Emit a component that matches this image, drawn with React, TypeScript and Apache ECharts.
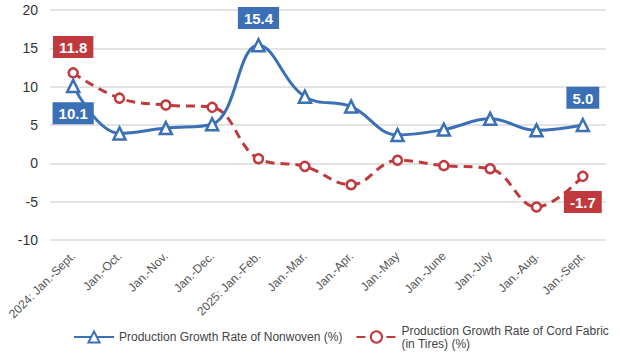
import React, { useEffect, useRef } from "react";
import * as echarts from "echarts";

const categories = [
  "2024: Jan.-Sept.",
  "Jan.-Oct.",
  "Jan.-Nov.",
  "Jan.-Dec.",
  "2025: Jan.-Feb.",
  "Jan.-Mar.",
  "Jan.-Apr.",
  "Jan.-May",
  "Jan.-June",
  "Jan.-July",
  "Jan.-Aug.",
  "Jan.-Sept.",
];
const nonwovenValues = [10.1, 3.9, 4.6, 5.1, 15.4, 8.7, 7.4, 3.7, 4.4, 5.8, 4.3, 5.0];
const cordValues = [11.8, 8.5, 7.6, 7.3, 0.6, -0.4, -2.8, 0.4, -0.3, -0.7, -5.7, -1.7];
const nonwovenLabels: Record<number, string> = { 0: "bottom", 4: "top", 11: "top" };
const cordLabels: Record<number, string> = { 0: "top", 11: "bottom" };
const yTicks = { min: -10, max: 20, interval: 5 };
const seriesNames = [
  "Production Growth Rate of Nonwoven (%)",
  "Production Growth Rate of Cord Fabric\n(in Tires) (%)",
];

const BLUE = "#3b70b6";
const RED = "#c0393c";
const SANS = "Liberation Sans, Arial, sans-serif";

function buildData(values: number[], labels: Record<number, string>, color: string) {
  return values.map((v, i) =>
    labels[i]
      ? {
          value: v,
          label: {
            show: true,
            position: labels[i],
            distance: 9,
            formatter: (p: any) => Number(p.value).toFixed(1),
            color: "#fff",
            backgroundColor: color,
            padding: [4, 6, 3, 6],
            fontSize: 15,
            fontWeight: "bold",
            fontFamily: SANS,
          },
        }
      : v
  );
}

export default function App() {
  const ref = useRef<HTMLDivElement>(null);
  useEffect(() => {
    document.body.style.margin = "0";
    if (!ref.current) return;
    const chart = echarts.init(ref.current, undefined, { renderer: "svg" });
    chart.setOption({
      animation: false,
      backgroundColor: "#fff",
      grid: { left: 50, right: 14, top: 10, bottom: 115 },
      xAxis: {
        type: "category",
        data: categories,
        boundaryGap: true,
        axisLine: { show: false },
        axisTick: { show: false },
        axisLabel: {
          rotate: 45,
          interval: 0,
          color: "#555",
          fontSize: 12,
          margin: 14,
          fontFamily: SANS,
        },
      },
      yAxis: {
        type: "value",
        min: yTicks.min,
        max: yTicks.max,
        interval: yTicks.interval,
        axisLine: { show: false },
        axisTick: { show: false },
        axisLabel: { color: "#333", fontSize: 14, margin: 12, fontFamily: SANS },
        splitLine: { lineStyle: { color: "#e3e3e3", width: 2 } },
      },
      legend: {
        top: 319,
        left: 68,
        itemWidth: 40,
        itemHeight: 14,
        itemGap: 13,
        textStyle: {
          color: "#444",
          fontSize: 12,
          lineHeight: 13,
          fontFamily: SANS,
        },
        data: seriesNames.map((n) => ({ name: n })),
      },
      series: [
        {
          name: seriesNames[1],
          type: "line",
          smooth: 0.4,
          data: buildData(cordValues, cordLabels, RED),
          symbol: "circle",
          symbolSize: 9,
          showAllSymbol: true,
          lineStyle: { color: RED, width: 3, type: [9, 6] },
          itemStyle: { color: "#fff", borderColor: RED, borderWidth: 2.5 },
          z: 2,
        },
        {
          name: seriesNames[0],
          type: "line",
          smooth: 0.4,
          data: buildData(nonwovenValues, nonwovenLabels, BLUE),
          symbol: "triangle",
          symbolSize: 12,
          showAllSymbol: true,
          lineStyle: { color: BLUE, width: 3 },
          itemStyle: { color: "#fff", borderColor: BLUE, borderWidth: 2.5 },
          z: 3,
        },
      ],
    });
    return () => chart.dispose();
  }, []);
  return <div ref={ref} style={{ width: 620, height: 355 }} />;
}
